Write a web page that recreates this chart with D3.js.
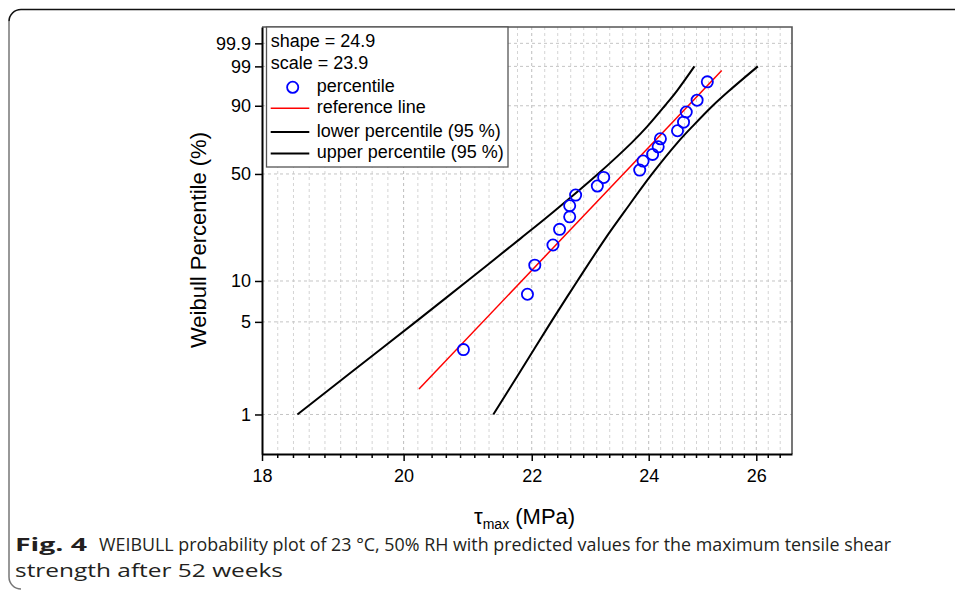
<!DOCTYPE html>
<html>
<head>
<meta charset="utf-8">
<script src="https://cdn.jsdelivr.net/npm/d3@7"></script>
<style>
  body { margin: 0; background: #fff; }
  svg { display: block; }
</style>
</head>
<body>
<div id="chartContainer"></div>
<script>
// values
const xTicks = [18, 20, 22, 24, 26];
const yTicks = [1, 5, 10, 50, 90, 99, 99.9];

const tauValues = [20.91, 21.93, 22.05, 22.35, 22.46, 22.63, 22.63, 22.73, 23.10, 23.21,
                   23.84, 23.90, 24.07, 24.17, 24.21, 24.52, 24.63, 24.68, 24.88, 25.07];
const percentiles = [3.1, 8.0, 13.0, 18.0, 23.0, 27.8, 32.7, 38.0, 42.9, 47.9,
                     52.4, 58.1, 62.4, 67.3, 72.4, 77.3, 82.2, 87.3, 92.1, 97.0];

const refTau = [20.23, 25.34];
const refPct = [1.56, 98.63];

const bandPct = [1, 2, 5, 10, 20, 30, 50, 70, 80, 90, 95, 99];
const lowerTau = [18.48, 19.19, 20.18, 20.97, 21.82, 22.36, 23.11, 23.70, 23.98, 24.29, 24.51, 24.83];
const upperTau = [21.38, 21.78, 22.32, 22.76, 23.24, 23.57, 24.06, 24.52, 24.80, 25.17, 25.48, 26.03];

const legendLabels = ["shape = 24.9", "scale = 23.9", "percentile", "reference line",
                      "lower percentile (95 %)", "upper percentile (95 %)"];

document.addEventListener('DOMContentLoaded', () => {
    const width = 955, height = 590;
    const left = 262, right = 792, top = 27, bottom = 454;
    const font = "'Liberation Sans', Arial, sans-serif";

    // weibull probability transform
    const wb = p => Math.log(-Math.log(1 - p / 100));

    const svg = d3.select("#chartContainer")
        .append("svg")
        .attr("width", width)
        .attr("height", height);

    const x = d3.scaleLog().domain([18, 26.7]).range([left, right]);
    const y = d3.scaleLinear().domain([wb(0.5), wb(99.99)]).range([bottom, top]);

    // page frame
    svg.append("path")
        .attr("d", `M${width},9.5 L21,9.5 A12,12 0 0 0 9,21.5`)
        .attr("fill", "none").attr("stroke", "#111").attr("stroke-width", 1.6);
    svg.append("path")
        .attr("d", "M9,21.5 L9,577 A12,12 0 0 0 21,589")
        .attr("fill", "none").attr("stroke", "#777").attr("stroke-width", 1.5);

    // minor x positions: 8 evenly spaced between majors
    const minorPx = [];
    for (let i = 0; i < xTicks.length - 1; i++) {
        const a = x(xTicks[i]), b = x(xTicks[i + 1]);
        for (let k = 1; k < 9; k++) minorPx.push(a + (b - a) * k / 9);
    }
    const step = (x(26) - x(24)) / 9;
    for (let p = x(26) + step; p < right - 2; p += step) minorPx.push(p);

    const grid = svg.append("g");
    grid.selectAll("line.vminor")
        .data(minorPx)
        .enter()
        .append("line")
        .attr("x1", d => d).attr("x2", d => d)
        .attr("y1", top).attr("y2", bottom)
        .attr("stroke", "#d4d4d4").attr("stroke-width", 1)
        .attr("stroke-dasharray", "3,3");
    grid.selectAll("line.vmajor")
        .data(xTicks.slice(1))
        .enter()
        .append("line")
        .attr("x1", d => x(d)).attr("x2", d => x(d))
        .attr("y1", top).attr("y2", bottom)
        .attr("stroke", "#bdbdbd").attr("stroke-width", 1)
        .attr("stroke-dasharray", "3,3");
    grid.selectAll("line.h")
        .data(yTicks)
        .enter()
        .append("line")
        .attr("x1", left).attr("x2", right)
        .attr("y1", d => y(wb(d))).attr("y2", d => y(wb(d)))
        .attr("stroke", "#c4c4c4").attr("stroke-width", 1)
        .attr("stroke-dasharray", "3,3");

    // top / right frame
    svg.append("path")
        .attr("d", `M${left},${top} H${right} V${bottom}`)
        .attr("fill", "none").attr("stroke", "#555").attr("stroke-width", 1.6);

    // confidence bands
    const line = d3.line()
        .x(d => x(d[0]))
        .y(d => y(wb(d[1])))
        .curve(d3.curveCatmullRom);

    [lowerTau, upperTau].forEach(band => {
        svg.append("path")
            .datum(band.map((t, i) => [t, bandPct[i]]))
            .attr("d", line)
            .attr("fill", "none")
            .attr("stroke", "#000")
            .attr("stroke-width", 2);
    });

    // reference line
    svg.append("path")
        .datum(refTau.map((t, i) => [t, refPct[i]]))
        .attr("d", d3.line().x(d => x(d[0])).y(d => y(wb(d[1]))))
        .attr("fill", "none")
        .attr("stroke", "#ff0000")
        .attr("stroke-width", 1.5);

    // percentile points
    svg.selectAll("circle.pt")
        .data(tauValues.map((t, i) => [t, percentiles[i]]))
        .enter()
        .append("circle")
        .attr("cx", d => x(d[0]))
        .attr("cy", d => y(wb(d[1])))
        .attr("r", 5.6)
        .attr("fill", "none")
        .attr("stroke", "#0000ff")
        .attr("stroke-width", 1.8);

    // axes
    const xAxis = svg.append("g")
        .attr("transform", `translate(0,${bottom})`)
        .call(d3.axisBottom(x).tickValues(xTicks).tickFormat(d3.format("d"))
            .tickSize(7).tickSizeOuter(0).tickPadding(8));
    xAxis.selectAll(".tick line").attr("stroke-width", 1.5);
    xAxis.selectAll(".tick text").attr("font-size", 18).attr("font-family", font).attr("fill", "#000");
    xAxis.select(".domain").attr("stroke-width", 2);
    xAxis.selectAll("line.minor")
        .data(minorPx)
        .enter()
        .append("line")
        .attr("x1", d => d).attr("x2", d => d)
        .attr("y1", 0).attr("y2", 4)
        .attr("stroke", "#000").attr("stroke-width", 1.5);

    const yAxis = svg.append("g")
        .attr("transform", `translate(${left},0)`)
        .call(d3.axisLeft(y).tickValues(yTicks.map(wb))
            .tickFormat((d, i) => yTicks[i])
            .tickSize(7).tickSizeOuter(0).tickPadding(4));
    yAxis.selectAll(".tick line").attr("stroke-width", 1.5);
    yAxis.selectAll(".tick text").attr("font-size", 18).attr("font-family", font).attr("fill", "#000");
    yAxis.select(".domain").attr("stroke-width", 2);

    // axis titles
    svg.append("text")
        .attr("transform", "translate(206,240) rotate(-90)")
        .attr("text-anchor", "middle")
        .attr("font-family", font)
        .attr("font-size", 22)
        .text("Weibull Percentile (%)");

    const xt = svg.append("text")
        .attr("x", 474).attr("y", 524)
        .attr("font-family", font)
        .attr("font-size", 22);
    xt.append("tspan").text("τ");
    xt.append("tspan").attr("font-size", 14).attr("dy", 5).text("max");
    xt.append("tspan").attr("dy", -5).text(" (MPa)");

    // legend
    const lg = svg.append("g");
    lg.append("rect")
        .attr("x", 266.5).attr("y", top)
        .attr("width", 241.5).attr("height", 140)
        .attr("fill", "#fff").attr("stroke", "#555").attr("stroke-width", 1.3);
    const rowY = [47.3, 69.3, 91.7, 113.3, 136.5, 158];
    legendLabels.forEach((label, i) => {
        lg.append("text")
            .attr("x", i < 2 ? 270.7 : 316.7)
            .attr("y", rowY[i])
            .attr("font-family", font)
            .attr("font-size", 18)
            .text(label);
    });
    lg.append("circle")
        .attr("cx", 292.7).attr("cy", 87.3).attr("r", 5.6)
        .attr("fill", "none").attr("stroke", "#0000ff").attr("stroke-width", 1.8);
    [["#ff0000", 108.3, 1.5], ["#000", 132, 2], ["#000", 153.5, 2]].forEach(([c, ly, w]) => {
        lg.append("line")
            .attr("x1", 270.7).attr("x2", 309.3)
            .attr("y1", ly).attr("y2", ly)
            .attr("stroke", c).attr("stroke-width", w);
    });

    // caption
    const capFont = "'Open Sans', 'Liberation Sans', sans-serif";
    svg.append("text")
        .attr("x", 15).attr("y", 551)
        .attr("font-family", capFont).attr("font-weight", "bold")
        .attr("font-size", 18).attr("fill", "#231f20")
        .attr("textLength", 72).attr("lengthAdjust", "spacingAndGlyphs")
        .text("Fig. 4");
    svg.append("text")
        .attr("x", 99).attr("y", 551)
        .attr("font-family", capFont)
        .attr("font-size", 18).attr("fill", "#231f20")
        .attr("textLength", 792).attr("lengthAdjust", "spacingAndGlyphs")
        .text("WEIBULL probability plot of 23 °C, 50% RH with predicted values for the maximum tensile shear");
    svg.append("text")
        .attr("x", 15).attr("y", 577)
        .attr("font-family", capFont)
        .attr("font-size", 18).attr("fill", "#231f20")
        .attr("textLength", 268).attr("lengthAdjust", "spacingAndGlyphs")
        .text("strength after 52 weeks");
});
</script>
</body>
</html>
